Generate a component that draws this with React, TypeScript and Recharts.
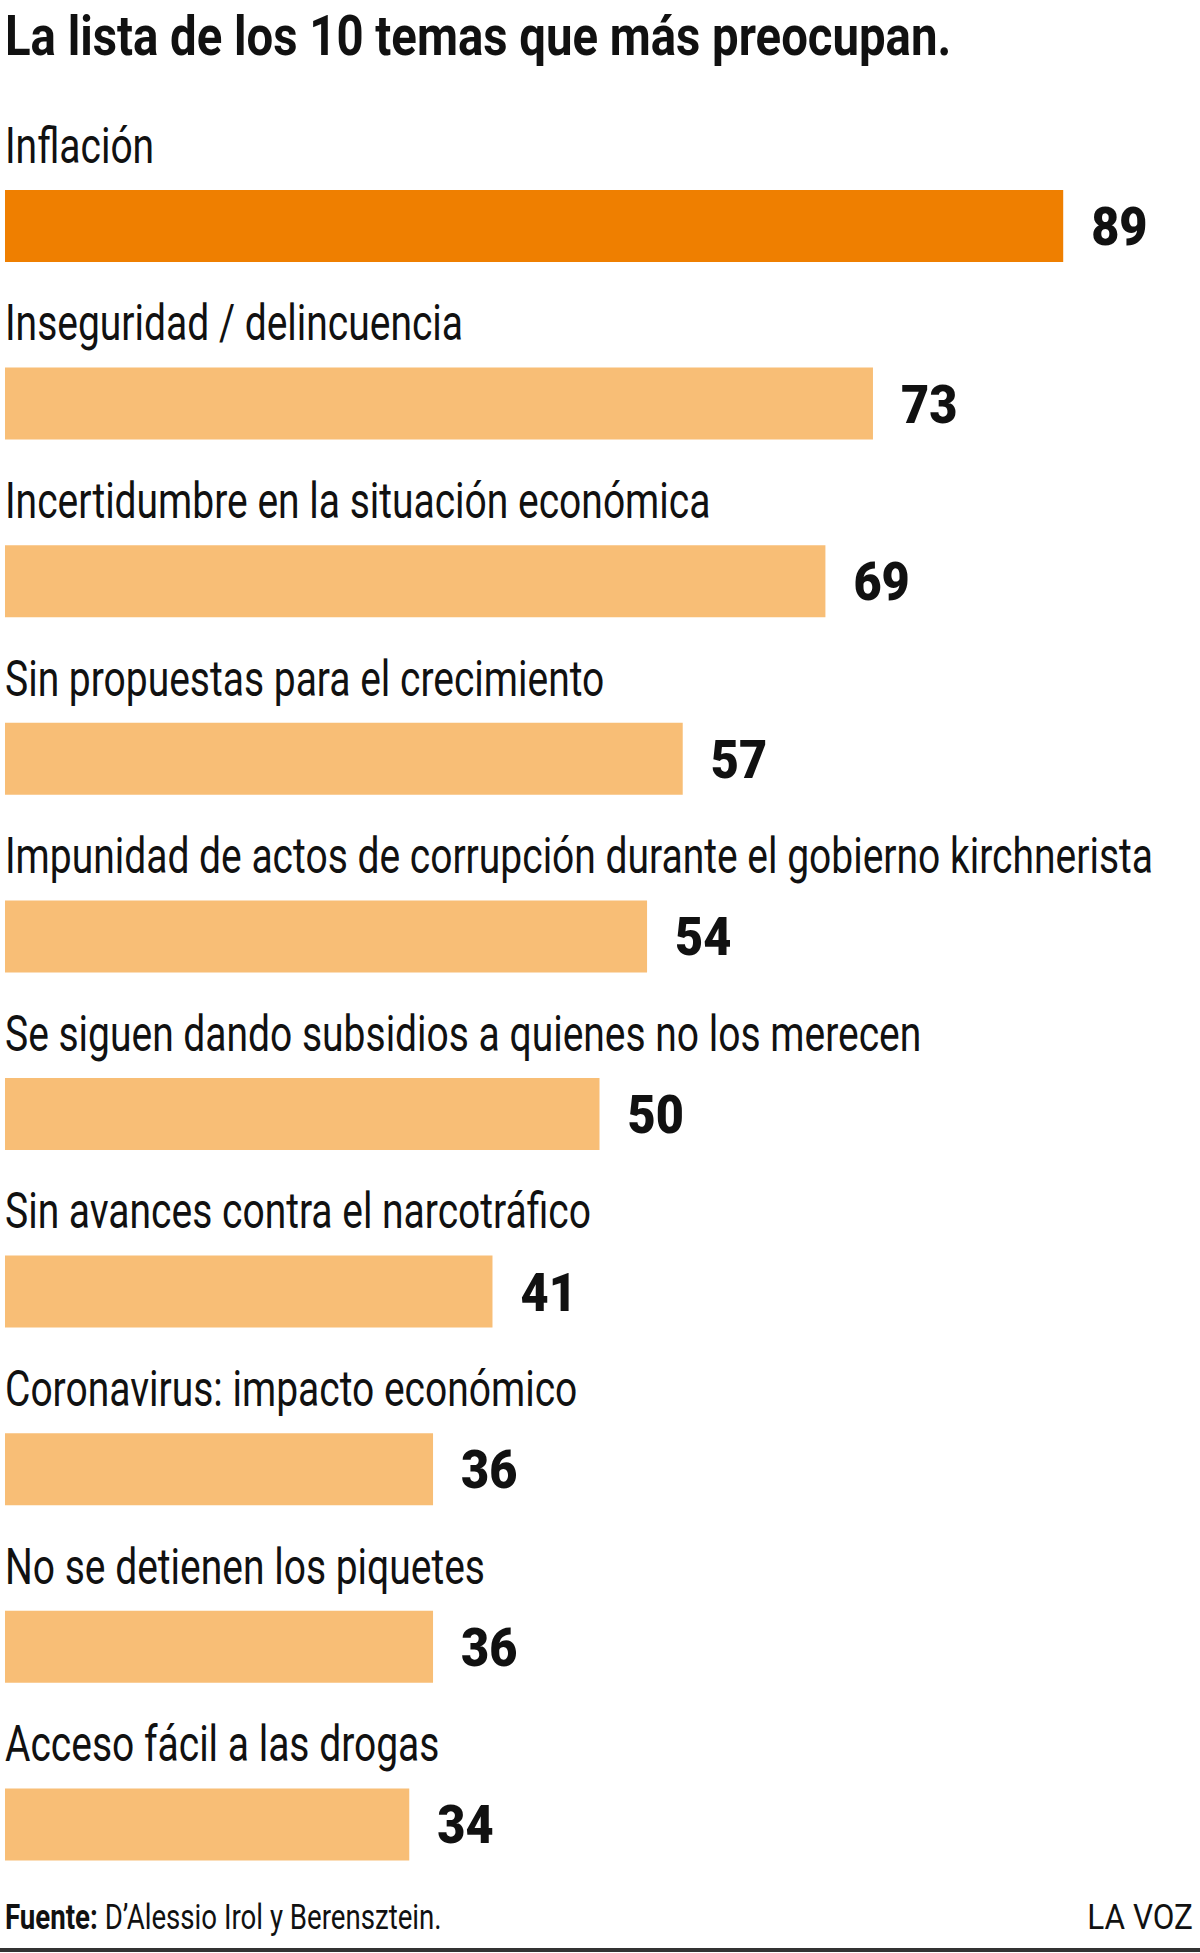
import React from 'react';
import { BarChart, Bar, XAxis, YAxis, Cell, LabelList } from 'recharts';

const categories = [
  'Inflación',
  'Inseguridad / delincuencia',
  'Incertidumbre en la situación económica',
  'Sin propuestas para el crecimiento',
  'Impunidad de actos de corrupción durante el gobierno kirchnerista',
  'Se siguen dando subsidios a quienes no los merecen',
  'Sin avances contra el narcotráfico',
  'Coronavirus: impacto económico',
  'No se detienen los piquetes',
  'Acceso fácil a las drogas',
];

const values = [89, 73, 69, 57, 54, 50, 41, 36, 36, 34];

const data = categories.map((name, i) => ({ name, value: values[i] }));

const FONT = 'Roboto, "Noto Sans", sans-serif';
const TOP_COLOR = '#EF7F00';
const BAR_COLOR = '#F8BE76';

// category names sit above each bar, left aligned
const renderCategoryTick = (props: any) => {
  const { y, payload } = props;
  return (
    <g transform={`translate(5, ${y - 63})`}>
      <text transform="scale(0.78,1)" fontSize={50} fontFamily={FONT} fill="#111">
        {payload.value}
      </text>
    </g>
  );
};

// bold value to the right of the bar, a bit condensed
const renderValue = (props: any) => {
  const { x, y, width, height, value } = props;
  return (
    <g transform={`translate(${x + width + 28}, ${y + height / 2 + 19})`}>
      <text transform="scale(0.9,1)" fontSize={54} fontWeight={900} fontFamily={FONT} fill="#111">
        {value}
      </text>
    </g>
  );
};

export default function App() {
  return (
    <div style={{ position: 'absolute', top: 0, left: 0, width: 1200, height: 1953, background: '#fff' }}>
      <BarChart
        width={1200}
        height={1953}
        data={data}
        layout="vertical"
        margin={{ top: 137, right: 6, bottom: 40, left: 4 }}
      >
        <XAxis type="number" domain={[0, 100]} hide />
        <YAxis
          type="category"
          dataKey="name"
          width={1}
          interval={0}
          axisLine={false}
          tickLine={false}
          tick={renderCategoryTick}
        />
        <Bar dataKey="value" barSize={72} isAnimationActive={false}>
          {data.map((d, i) => (
            <Cell key={d.name} fill={i === 0 ? TOP_COLOR : BAR_COLOR} />
          ))}
          <LabelList dataKey="value" content={renderValue} />
        </Bar>
      </BarChart>

      <svg
        width={1200}
        height={1953}
        style={{ position: 'absolute', top: 0, left: 0, pointerEvents: 'none' }}
      >
        <g transform="translate(5, 55)">
          <text transform="scale(0.845,1)" fontSize={56} fontWeight={700} fontFamily={FONT} fill="#111">
            La lista de los 10 temas que más preocupan.
          </text>
        </g>
        <g transform="translate(5, 1929)">
          <text transform="scale(0.79,1)" fontSize={35} fontFamily={FONT} fill="#111">
            <tspan fontWeight={700}>Fuente:</tspan> D’Alessio Irol y Berensztein.
          </text>
        </g>
        <g transform="translate(1193, 1929)">
          <text transform="scale(0.9,1)" textAnchor="end" fontSize={35} fontFamily={FONT} fill="#111">
            LA VOZ
          </text>
        </g>
        <rect x={0} y={1948} width={1200} height={4} fill="#333" />
      </svg>
    </div>
  );
}
